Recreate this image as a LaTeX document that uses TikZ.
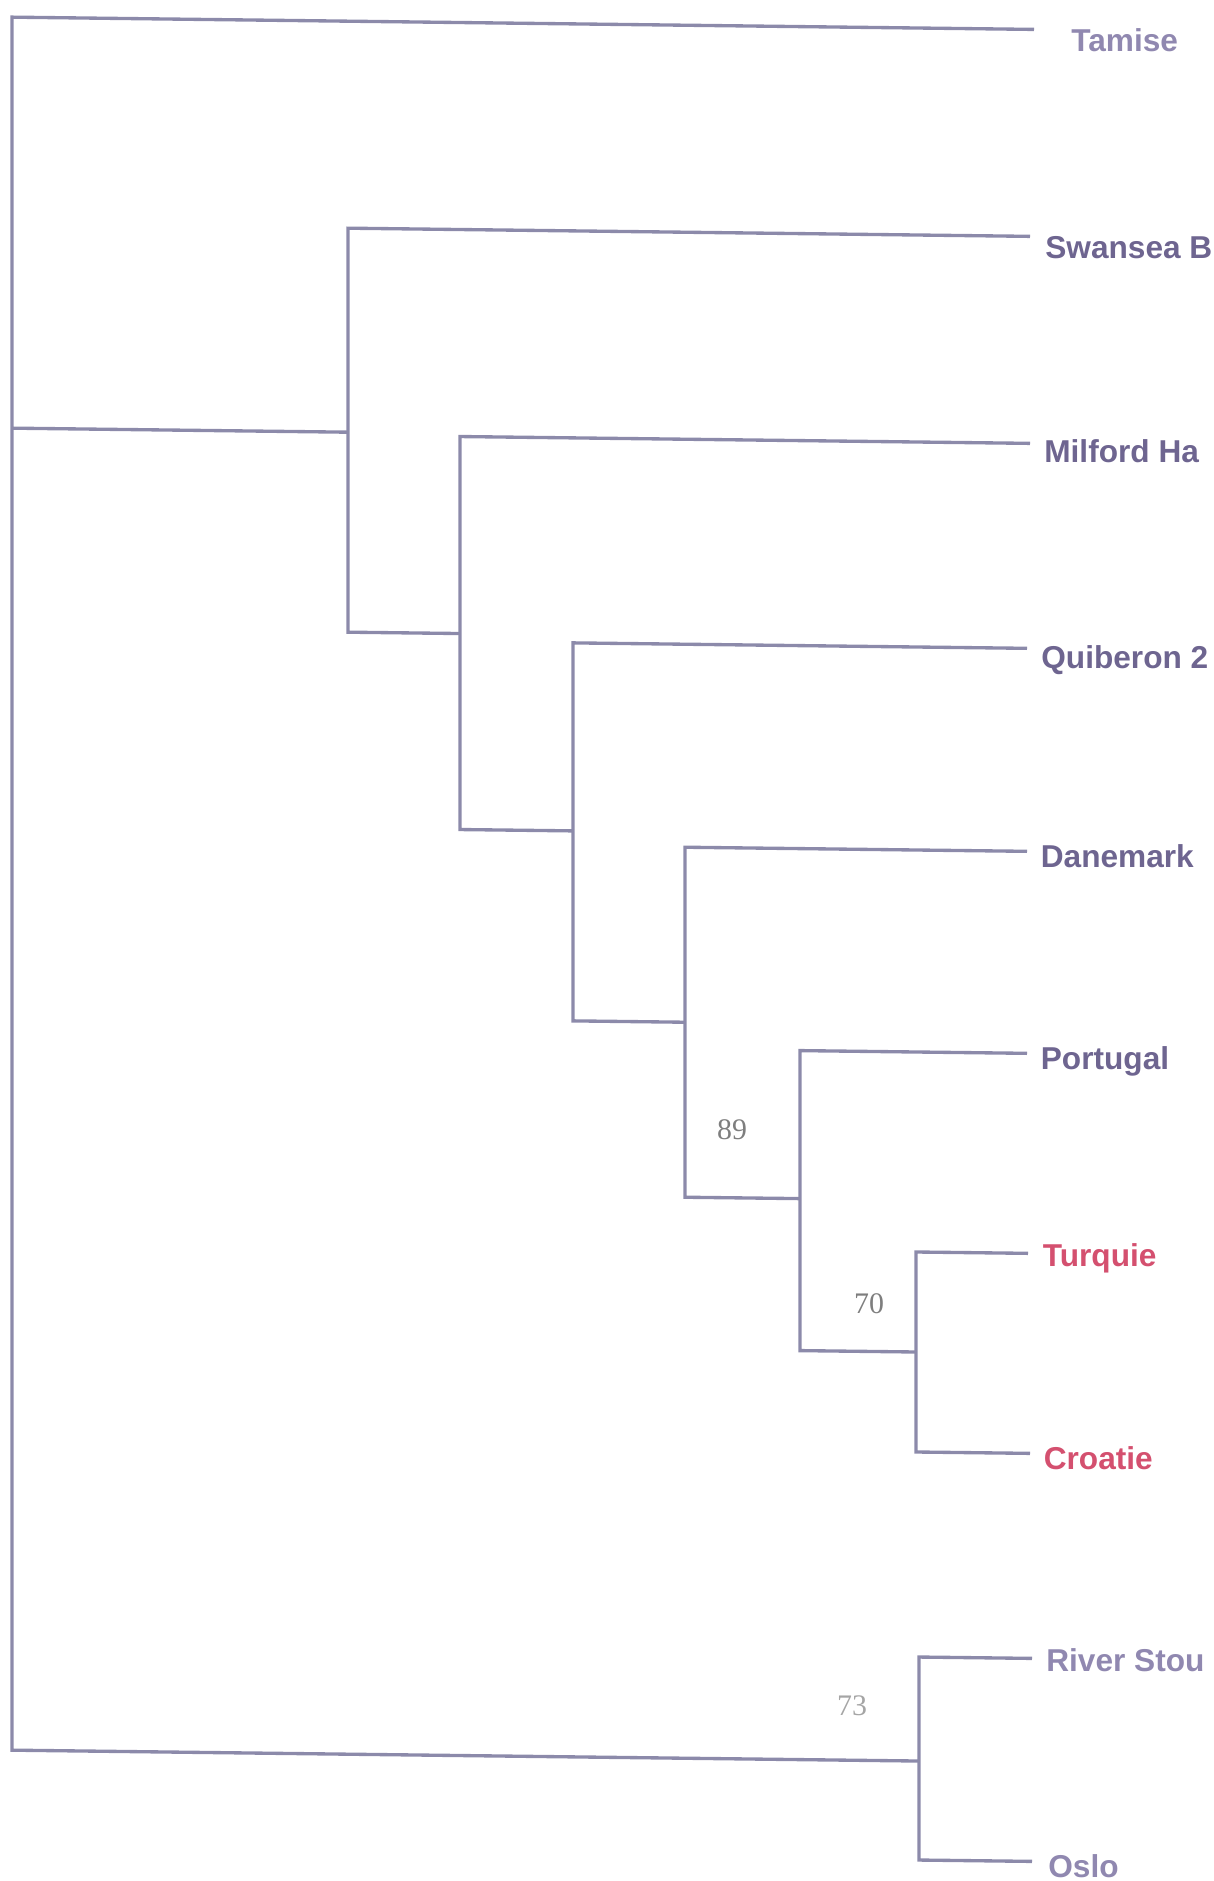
\documentclass[tikz,border=0pt]{standalone}
\usepackage{fontspec}
\setmainfont{Liberation Sans}
\newfontfamily\supportfont{Liberation Serif}
\usepackage{tikz}
\usetikzlibrary{positioning}

\begin{document}
\begin{tikzpicture}[x=0.02cm, y=-0.02cm]
\definecolor{branchGrey}{HTML}{8C8AAA}
\definecolor{leafPurple}{HTML}{6E6590}
\definecolor{leafPale}{HTML}{9088B0}
\definecolor{leafRed}{HTML}{D4506F}
\definecolor{supportGrey}{HTML}{7E7E7E}

\tikzset{
    branch/.style={draw=branchGrey, line width=1.9pt},
    leaf/.style={
        anchor=west, inner sep=0pt, yshift=-0.1cm, text=leafPurple,
        font=\fontsize{18}{20}\selectfont\bfseries,
    },
    support/.style={inner sep=0pt, text=supportGrey,
        font=\supportfont\fontsize{17}{19}\selectfont},
}

\useasboundingbox (0,0) rectangle (1214,1881);

% the scanned tree leans slightly, hence the slant
\begin{scope}[yslant=-0.012]
\coordinate (nRoot) at (12,428);
\coordinate (nSwansea) at (348,428);
\coordinate (nMilford) at (460,628);
\coordinate (nQuiberon) at (573,824);
\coordinate (nDanemark) at (685,1014);
\coordinate (nPortugal) at (800,1189);
\coordinate (nTurquie) at (916,1341);
\coordinate (nStour) at (919,1750);

\coordinate (tamiseEnd) at (1034,17);
\coordinate (swanseaEnd) at (1030,224);
\coordinate (milfordEnd) at (1030,431);
\coordinate (quiberonEnd) at (1027,636);
\coordinate (danemarkEnd) at (1027,839);
\coordinate (portugalEnd) at (1027,1041);
\coordinate (turquieEnd) at (1028,1241);
\coordinate (croatieEnd) at (1030,1441);
\coordinate (stourEnd) at (1032,1646);
\coordinate (osloEnd) at (1032,1849);

\draw[branch] (tamiseEnd) -| (nRoot) |- (nStour);
\draw[branch] (nRoot) -- (nSwansea);
\draw[branch] (swanseaEnd) -| (nSwansea) |- (nMilford);
\draw[branch] (milfordEnd) -| (nMilford) |- (nQuiberon);
\draw[branch] (quiberonEnd) -| (nQuiberon) |- (nDanemark);
\draw[branch] (danemarkEnd) -| (nDanemark) |- (nPortugal);
\draw[branch] (portugalEnd) -| (nPortugal) |- (nTurquie);
\draw[branch] (turquieEnd) -| (nTurquie) |- (croatieEnd);
\draw[branch] (stourEnd) -| (nStour) |- (osloEnd);

\node[leaf, right=0.74cm of tamiseEnd, text=leafPale, yshift=-0.12cm] (tamise) {Tamise};
\node[leaf, right=0.3cm of swanseaEnd, yshift=-0.12cm] (swansea) {Swansea B};
\node[leaf, right=0.28cm of milfordEnd, yshift=-0.06cm] (milford) {Milford Ha};
\node[leaf, right=0.28cm of quiberonEnd, yshift=-0.13cm] (quiberon) {Quiberon 2};
\node[leaf, right=0.27cm of danemarkEnd] (danemark) {Danemark};
\node[leaf, right=0.27cm of portugalEnd, yshift=-0.06cm] (portugal) {Portugal};
\node[leaf, right=0.29cm of turquieEnd, text=leafRed] (turquie) {Turquie};
\node[leaf, right=0.27cm of croatieEnd, text=leafRed] (croatie) {Croatie};
\node[leaf, right=0.28cm of stourEnd, text=leafPale, yshift=0.06cm] (stour) {River Stou};
\node[leaf, right=0.32cm of osloEnd, text=leafPale] (oslo) {Oslo};
\end{scope}

\node[support] (boot89) at (732,1130) {89};
\node[support] (boot70) at (869,1304) {70};
\node[support, text=supportGrey!70] (boot73) at (852,1706) {73};

\end{tikzpicture}
\end{document}
